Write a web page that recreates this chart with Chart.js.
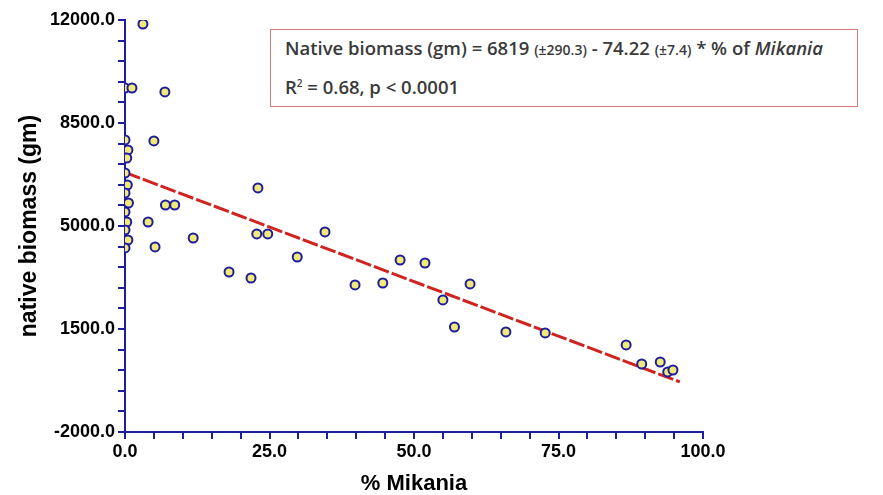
<!DOCTYPE html>
<html>
<head>
<meta charset="utf-8">
<script src="https://cdn.jsdelivr.net/npm/chart.js@4/dist/chart.umd.min.js"></script>
<style>
  html, body { margin: 0; padding: 0; background: #fff; }
  #wrap { position: relative; width: 883px; height: 495px; }
  #eqBox {
    position: absolute; left: 270px; top: 29px; width: 588px; height: 78px;
    box-sizing: border-box; border: 1.5px solid #d8787c; background: #fff;
    font-family: "Open Sans", "Liberation Sans", sans-serif; font-weight: 600;
    font-size: 18.5px; color: #3a3a3a; padding-left: 14px;
  }
  #eqBox .l1 { position: absolute; top: 5px; white-space: nowrap; }
  #eqBox .l2 { position: absolute; top: 44px; white-space: nowrap; }
  #eqBox small { font-size: 14px; }
  #eqBox sup { font-size: 10px; vertical-align: 7px; line-height: 0; }
</style>
</head>
<body>
<div id="wrap">
  <canvas id="chart" width="883" height="495"></canvas>
  <div id="eqBox">
    <div class="l1">Native biomass (gm) = 6819 <small>(±290.3)</small> - 74.22 <small>(±7.4)</small> * % of <i>Mikania</i></div>
    <div class="l2">R<sup>2</sup> = 0.68, p &lt; 0.0001</div>
  </div>
</div>
<script>
// % Mikania cover per plot and native biomass (gm)
var mikaniaPct = [0, 1.2, 0, 0.5, 0.3, 0, 0.4, 0, 0.6, 0, 0.3, 0, 0.5, 0,
                  3.1, 6.9, 5.0, 7.0, 8.6, 4.0, 5.2, 11.8, 23.0, 22.8, 24.7, 29.8,
                  34.6, 18.0, 21.8, 47.6, 51.9, 39.8, 44.6, 59.7, 55.0, 57.0,
                  65.9, 72.7, 86.7, 89.4, 92.6, 93.9, 94.8];
var nativeBiomass = [9689, 9689, 7923, 7583, 7311, 6801, 6393, 6122, 5782, 5476, 5136, 4864, 4524, 4253,
                     11864, 9554, 7889, 5714, 5714, 5136, 4287, 4592, 6292, 4729, 4729, 3947,
                     4797, 3437, 3233, 3845, 3743, 2996, 3063, 3030, 2486, 1568,
                     1399, 1365, 957, 311, 379, 40, 107];

// fitted line end points
var fitX = [0, 96];
var fitY = [6819, -300];

var xTickLabels = [0, 25, 50, 75, 100];
var yTickLabels = [-2000, 1500, 5000, 8500, 12000];

var axisColor = '#1e1e9c';
var tickFont = { family: 'Liberation Sans', size: 18, weight: 'bold' };

function toPoints(xs, ys) {
    return xs.map(function(x, i) { return { x: x, y: ys[i] }; });
}

new Chart(document.getElementById('chart'), {
    type: 'scatter',
    data: {
        datasets: [{
            type: 'line',
            data: toPoints(fitX, fitY),
            borderColor: '#cf2420',
            borderWidth: 3,
            borderDash: [16, 3],
            pointRadius: 0,
            order: 2
        }, {
            data: toPoints(mikaniaPct, nativeBiomass),
            pointStyle: 'circle',
            pointRadius: 4.5,
            borderWidth: 2,
            borderColor: axisColor,
            backgroundColor: '#f2ea78',
            order: 1
        }]
    },
    options: {
        responsive: false,
        animation: false,
        layout: { padding: { top: 20, right: 180, left: 0, bottom: 0 } },
        plugins: { legend: { display: false }, tooltip: { enabled: false } },
        scales: {
            x: {
                type: 'linear', min: 0, max: 100,
                afterFit: function(scale) { scale.height = 63; },
                border: { display: true, color: axisColor, width: 2 },
                grid: { drawOnChartArea: false, drawTicks: true, tickLength: 7, color: axisColor, lineWidth: 2 },
                ticks: {
                    stepSize: 5, autoSkip: false, maxRotation: 0, color: '#000', font: tickFont, padding: 2,
                    callback: function(v) { return xTickLabels.indexOf(v) >= 0 ? v.toFixed(1) : ''; }
                },
                title: {
                    display: true, text: '% Mikania', color: '#000',
                    font: { family: 'Liberation Sans', size: 22, weight: 'bold', lineHeight: 1 },
                    padding: { top: 0, bottom: 0 }
                }
            },
            y: {
                type: 'linear', min: -2000, max: 12000,
                afterFit: function(scale) { scale.width = 125; },
                border: { display: true, color: axisColor, width: 2 },
                grid: { drawOnChartArea: false, drawTicks: true, tickLength: 7, color: axisColor, lineWidth: 2 },
                ticks: {
                    stepSize: 700, autoSkip: false, color: '#000', font: tickFont, padding: 3,
                    callback: function(v) { return yTickLabels.indexOf(v) >= 0 ? v.toFixed(1) : ''; }
                },
                title: {
                    display: true, text: 'native biomass (gm)', color: '#000',
                    font: { family: 'Liberation Sans', size: 23, weight: 'bold', lineHeight: 1 },
                    padding: { top: 18, bottom: 0 }
                }
            }
        }
    }
});
</script>
</body>
</html>
